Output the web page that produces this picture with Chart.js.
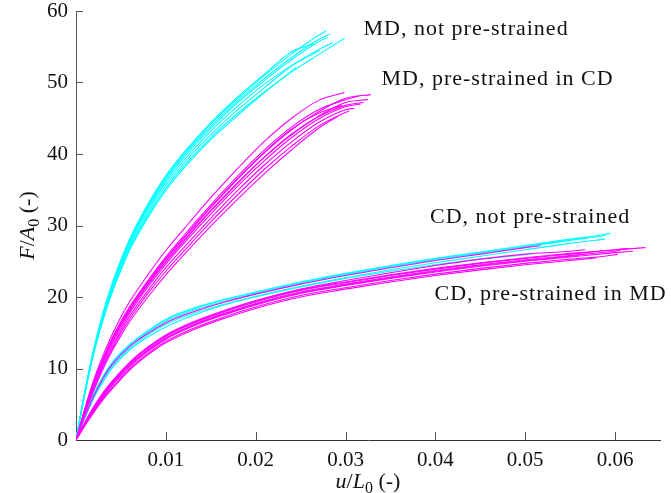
<!DOCTYPE html>
<html>
<head>
<meta charset="utf-8">
<script src="https://cdn.jsdelivr.net/npm/chart.js@4.4.0/dist/chart.umd.min.js"></script>
<style>
  html, body { margin: 0; padding: 0; background: #fff; }
  #wrap { width: 671px; height: 493px; }
</style>
</head>
<body>
<div id="wrap"><canvas id="chart"></canvas></div>
<script>
// tick values on each axis
const xTickValues = [0.01, 0.02, 0.03, 0.04, 0.05, 0.06];
const yTickValues = [0, 10, 20, 30, 40, 50, 60];

// shared strain grid for the MD tests
const mdGridX = [0, 0.001, 0.002, 0.003, 0.004, 0.005, 0.006, 0.008, 0.010, 0.012, 0.015, 0.018, 0.021, 0.024, 0.027, 0.030];

// MD, not pre-strained
const mdFreeY = [
  [0, 6.8, 12.8, 17.6, 21.6, 25.0, 28.0, 32.8, 36.8, 40.0, 44.2, 47.8, 51.0, 54.0, 56.6],
  [0, 6.7, 12.6, 17.4, 21.4, 24.7, 27.7, 32.4, 36.3, 39.5, 43.6, 47.2, 50.3, 53.2, 55.7],
  [0, 6.6, 12.3, 16.9, 20.7, 23.9, 26.8, 31.4, 35.2, 38.3, 42.3, 45.7, 48.7, 51.5, 53.9],
  [0, 6.7, 12.5, 17.2, 21.1, 24.5, 27.4, 32.1, 36.0, 39.1, 43.2, 46.7, 49.8, 52.4, 54.6],
  [0, 6.6, 12.4, 17.0, 20.9, 24.2, 27.1, 31.7, 35.6, 38.7, 42.7, 46.2, 49.3, 52.3],
  [0, 6.5, 12.2, 16.7, 20.5, 23.7, 26.6, 31.1, 34.9, 38.0, 42.0, 45.4, 48.6, 51.6],
  [0, 6.9, 12.9, 17.8, 21.8, 25.2, 28.2, 33.0, 37.0, 40.2, 44.4, 48.0, 51.2, 54.3],
  [0, 6.8, 12.7, 17.5, 21.5, 24.9, 27.9, 32.6, 36.6, 39.8, 43.9, 47.5, 50.6, 53.5, 56.0],
];
const mdFreeEnd = [[0.0278, 57.2], [0.0280, 56.3], [0.0299, 56.2], [0.0286, 55.6], [0.0271, 54.5], [0.0245, 52.1], [0.0265, 55.4], [0.0283, 56.8]];

// MD, pre-strained in CD
const mdPreY = [
  [0, 4.5, 8.5, 11.8, 14.7, 17.2, 19.4, 23.1, 26.5, 29.5, 33.9, 38.0, 41.8, 45.0, 47.5],
  [0, 4.2, 8.0, 11.2, 13.9, 16.3, 18.4, 22.0, 25.3, 28.2, 32.5, 36.5, 40.2, 43.4, 45.9, 47.8],
  [0, 4.1, 7.8, 11.0, 13.7, 16.0, 18.1, 21.7, 24.9, 27.8, 32.0, 35.9, 39.6, 42.8, 45.3, 47.2],
  [0, 4.0, 7.6, 10.7, 13.4, 15.7, 17.8, 21.4, 24.6, 27.5, 31.6, 35.5, 39.1, 42.3, 44.9, 46.6],
  [0, 3.9, 7.4, 10.4, 13.0, 15.3, 17.4, 20.9, 24.1, 26.9, 31.0, 34.9, 38.5, 41.7, 44.4, 46.2],
  [0, 3.8, 7.2, 10.2, 12.7, 15.0, 17.0, 20.5, 23.6, 26.4, 30.5, 34.3, 37.9, 41.1, 43.9, 45.8],
  [0, 3.7, 7.0, 9.9, 12.4, 14.6, 16.6, 20.0, 23.1, 25.9, 29.9, 33.7, 37.3, 40.6, 43.6],
  [0, 4.3, 8.2, 11.4, 14.2, 16.6, 18.7, 22.3, 25.6, 28.6, 32.9, 36.9, 40.6, 43.8, 46.2, 47.6],
  [0, 4.2, 7.9, 11.1, 13.8, 16.1, 18.2, 21.8, 25.0, 27.9, 32.1, 36.0, 39.6, 42.7, 45.2, 46.8],
  [0, 4.3, 8.1, 11.3, 14.0, 16.4, 18.5, 22.1, 25.4, 28.3, 32.6, 36.6, 40.3, 43.5, 45.7],
];
const mdPreEnd = [[0.0299, 48.6], [0.0328, 48.3], [0.0325, 47.6], [0.0317, 47.0], [0.0310, 46.4], [0.0304, 46.0], [0.0292, 45.3], [0.0315, 48.1], [0.0320, 47.2], [0.0296, 46.8]];

// shared strain grid for the CD tests
const cdGridX = [0, 0.001, 0.002, 0.003, 0.004, 0.006, 0.008, 0.010, 0.013, 0.016, 0.020, 0.025, 0.030, 0.035, 0.040, 0.045, 0.050, 0.055, 0.060];

// CD, not pre-strained
const cdFreeY = [
  [0, 3.4, 6.4, 8.8, 10.7, 13.3, 15.2, 16.8, 18.3, 19.4, 20.6, 22.0, 23.2, 24.3, 25.3, 26.2, 27.1, 28.0],
  [0, 3.3, 6.3, 8.7, 10.6, 13.2, 15.1, 16.6, 18.1, 19.2, 20.5, 21.9, 23.1, 24.2, 25.2, 26.1, 27.0, 27.9],
  [0, 3.5, 6.5, 8.9, 10.8, 13.4, 15.3, 16.9, 18.4, 19.5, 20.7, 22.1, 23.3, 24.4, 25.4, 26.3, 27.2, 28.1],
  [0, 3.2, 6.0, 8.3, 10.2, 12.8, 14.7, 16.2, 17.7, 18.8, 20.1, 21.5, 22.7, 23.8, 24.8, 25.7, 26.6, 27.5],
  [0, 3.1, 5.9, 8.1, 10.0, 12.6, 14.4, 15.8, 17.4, 18.7, 20.0, 21.4, 22.6, 23.6, 24.5, 25.3, 25.9],
];
const cdFreeEnd = [[0.0595, 28.9], [0.0590, 28.6], [0.0570, 28.4], [0.0589, 28.1], [0.0509, 26.1]];

// CD, pre-strained in MD
const cdPreY = [
  [0, 3.3, 6.2, 8.6, 10.5, 13.1, 14.9, 16.4, 17.9, 19.1, 20.4, 21.8, 23.0, 24.1, 25.1, 26.0, 26.9],
  [0, 2.4, 4.5, 6.4, 8.0, 10.7, 12.8, 14.5, 16.3, 17.7, 19.3, 20.9, 22.0, 23.0, 23.9, 24.7, 25.4, 26.0, 26.6],
  [0, 2.3, 4.4, 6.2, 7.8, 10.5, 12.6, 14.3, 16.1, 17.5, 19.1, 20.7, 21.8, 22.8, 23.7, 24.5, 25.2, 25.8, 26.4],
  [0, 2.5, 4.7, 6.6, 8.2, 10.9, 13.0, 14.7, 16.5, 17.9, 19.5, 21.1, 22.3, 23.4, 24.4, 25.3, 26.0, 26.4],
  [0, 2.2, 4.2, 6.0, 7.6, 10.3, 12.4, 14.1, 15.9, 17.3, 18.9, 20.5, 21.6, 22.6, 23.5, 24.3, 25.0, 25.6, 26.2],
  [0, 2.1, 4.0, 5.8, 7.3, 10.0, 12.1, 13.8, 15.6, 17.0, 18.6, 20.2, 21.3, 22.3, 23.2, 24.0, 24.7, 25.3, 25.9],
  [0, 2.0, 3.9, 5.6, 7.1, 9.8, 11.9, 13.6, 15.4, 16.8, 18.4, 20.0, 21.1, 22.1, 23.0, 23.8, 24.5, 25.1],
  [0, 2.3, 4.3, 6.1, 7.7, 10.4, 12.5, 14.2, 16.0, 17.4, 19.0, 20.6, 21.7, 22.7, 23.6, 24.4, 25.1, 25.7],
  [0, 2.4, 4.6, 6.5, 8.1, 10.8, 12.9, 14.6, 16.4, 17.8, 19.4, 21.0, 22.1, 23.1, 24.0, 24.8, 25.5, 26.1, 26.6],
];
const cdPreEnd = [[0.0517, 27.2], [0.0634, 26.9], [0.0606, 26.5], [0.0567, 26.6], [0.0620, 26.4], [0.0603, 26.0], [0.0580, 25.5], [0.0560, 25.8], [0.0615, 26.8]];

// curve labels, placed in data units
const labelTexts = ["MD, not pre-strained", "MD, pre-strained in CD", "CD, not pre-strained", "CD, pre-strained in MD"];
const labelX = [0.0320, 0.0340, 0.0394, 0.0399];
const labelY = [57.5, 50.5, 31.2, 20.4];

const SERIF = "'Liberation Serif', 'Times New Roman', serif";
const CYAN = "#00ffff";
const MAGENTA = "#ff00ff";

function buildCurves(gridX, ys, ends, color) {
  return ys.map((row, i) => ({
    data: row.map((y, j) => ({ x: gridX[j], y })).concat([{ x: ends[i][0], y: ends[i][1] }]),
    borderColor: color,
    borderWidth: 1.1,
    pointRadius: 0,
    showLine: true,
    fill: false,
    cubicInterpolationMode: "monotone",
  }));
}

// draws text made of normal / italic / subscript parts, centred on (cx, cy)
function drawRich(ctx, parts, cx, cy, size) {
  const fontFor = (style) => {
    if (style === "i") return `italic ${size}px ${SERIF}`;
    if (style === "s") return `${Math.round(size * 0.72)}px ${SERIF}`;
    return `${size}px ${SERIF}`;
  };
  let total = 0;
  const widths = parts.map(([text, style]) => {
    ctx.font = fontFor(style);
    const w = ctx.measureText(text).width;
    total += w;
    return w;
  });
  let x = cx - total / 2;
  const base = cy + size * 0.33;
  ctx.textBaseline = "alphabetic";
  ctx.textAlign = "left";
  parts.forEach(([text, style], i) => {
    ctx.font = fontFor(style);
    ctx.fillText(text, x, style === "s" ? base + size * 0.22 : base);
    x += widths[i];
  });
}

const decorations = {
  id: "decorations",
  afterDraw(chart) {
    const { ctx, chartArea, scales } = chart;
    ctx.save();

    // inward tick marks
    ctx.strokeStyle = "#555";
    ctx.lineWidth = 1;
    ctx.beginPath();
    scales.x.ticks.forEach((t) => {
      const px = Math.round(scales.x.getPixelForValue(t.value)) + 0.5;
      ctx.moveTo(px, chartArea.bottom);
      ctx.lineTo(px, chartArea.bottom - 8);
    });
    scales.y.ticks.forEach((t) => {
      if (t.value === 0) return;
      const py = Math.round(scales.y.getPixelForValue(t.value)) + 0.5;
      ctx.moveTo(chartArea.left, py);
      ctx.lineTo(chartArea.left + 7, py);
    });
    ctx.stroke();

    // curve labels
    ctx.fillStyle = "#111";
    ctx.font = `22px ${SERIF}`;
    ctx.textAlign = "left";
    ctx.textBaseline = "middle";
    if ("letterSpacing" in ctx) ctx.letterSpacing = "1px";
    labelTexts.forEach((text, i) => {
      ctx.fillText(text, scales.x.getPixelForValue(labelX[i]), scales.y.getPixelForValue(labelY[i]));
    });
    if ("letterSpacing" in ctx) ctx.letterSpacing = "0px";

    // axis titles
    drawRich(ctx, [["u", "i"], ["/", "n"], ["L", "i"], ["0", "s"], [" (-)", "n"]],
      (chartArea.left + chartArea.right) / 2, chartArea.bottom + 41, 22);
    ctx.translate(chartArea.left - 49, (chartArea.top + chartArea.bottom) / 2);
    ctx.rotate(-Math.PI / 2);
    drawRich(ctx, [["F", "i"], ["/", "n"], ["A", "i"], ["0", "s"], [" (-)", "n"]], 0, 0, 22);

    ctx.restore();
  },
};

Chart.defaults.font.family = SERIF;
Chart.defaults.color = "#111";

new Chart(document.getElementById("chart"), {
  type: "scatter",
  data: {
    datasets: [
      ...buildCurves(cdGridX, cdPreY, cdPreEnd, MAGENTA),
      ...buildCurves(mdGridX, mdPreY, mdPreEnd, MAGENTA),
      ...buildCurves(cdGridX, cdFreeY, cdFreeEnd, CYAN),
      ...buildCurves(mdGridX, mdFreeY, mdFreeEnd, CYAN),
    ],
  },
  options: {
    responsive: true,
    maintainAspectRatio: false,
    animation: false,
    layout: { padding: { top: 11, right: 11, left: 0, bottom: 0 } },
    plugins: { legend: { display: false }, tooltip: { enabled: false } },
    scales: {
      x: {
        type: "linear",
        min: 0,
        max: 0.065,
        afterBuildTicks: (scale) => { scale.ticks = xTickValues.map((value) => ({ value })); },
        afterFit: (scale) => { scale.height = 53; scale.paddingLeft = 0; scale.paddingRight = 0; },
        ticks: {
          padding: 10,
          font: { size: 21, lineHeight: 1 },
          color: "#111",
          maxRotation: 0,
          callback: (value) => value.toFixed(2),
        },
        grid: { drawOnChartArea: false, drawTicks: false },
        border: { display: true, color: "#333", width: 1 },
      },
      y: {
        type: "linear",
        min: 0,
        max: 60,
        afterBuildTicks: (scale) => { scale.ticks = yTickValues.map((value) => ({ value })); },
        afterFit: (scale) => { scale.width = 76; scale.paddingTop = 0; scale.paddingBottom = 0; },
        ticks: {
          padding: 8,
          font: { size: 21, lineHeight: 1 },
          color: "#111",
        },
        grid: { drawOnChartArea: false, drawTicks: false },
        border: { display: true, color: "#555", width: 1 },
      },
    },
  },
  plugins: [decorations],
});
</script>
</body>
</html>
